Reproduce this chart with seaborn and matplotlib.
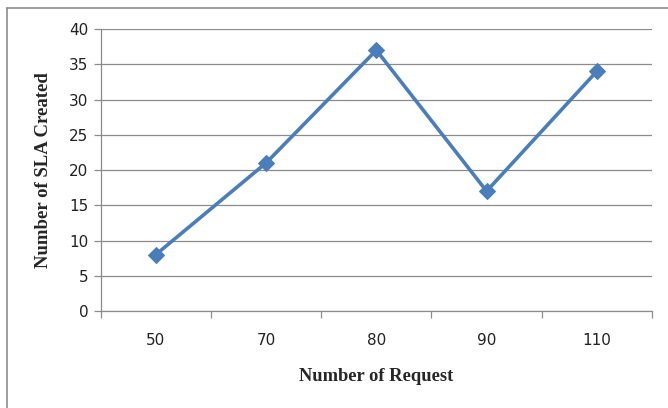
import matplotlib
matplotlib.use("Agg")
import matplotlib.pyplot as plt
import seaborn as sns
import pandas as pd
from matplotlib.lines import Line2D

# data
requests = ["50", "70", "80", "90", "110"]
sla_created = [8, 21, 37, 17, 34]
y_ticks = [0, 5, 10, 15, 20, 25, 30, 35, 40]

sns.set_style("white")
plt.rcParams['font.family'] = ['DejaVu Sans']

df = pd.DataFrame({"req": requests, "sla": sla_created})
df["pos"] = range(len(requests))

fig = plt.figure(figsize=(6.68, 4.08), dpi=100)
ax = fig.add_axes([0.1507, 0.2377, 0.976 - 0.1507, 0.9289 - 0.2377])

sns.lineplot(data=df, x="pos", y="sla", ax=ax, color="#4A7EBB", linewidth=2.6,
             marker="D", markersize=8, markeredgecolor="#4A7EBB", zorder=3)

ax.set_xlim(-0.5, len(requests) - 0.5)
ax.set_ylim(0, 40)
ax.set_yticks(y_ticks)
ax.yaxis.grid(True, color="#8c8c8c", linewidth=0.9)
ax.set_xticks(range(len(requests)))
ax.set_xticklabels(requests)
# tick marks between categories
ax.set_xticks([i - 0.5 for i in range(len(requests) + 1)], minor=True)
ax.tick_params(axis="x", which="major", length=0, pad=16, labelsize=11, colors="#222222")
ax.tick_params(axis="x", which="minor", length=5, color="#8c8c8c", width=0.9, direction="out", bottom=True)
ax.tick_params(axis="y", length=5, color="#8c8c8c", width=0.9, direction="out", left=True,
               labelsize=11, colors="#222222", pad=4)

for side in ["top", "right"]:
    ax.spines[side].set_visible(False)
for side in ["left", "bottom"]:
    ax.spines[side].set_color("#8c8c8c")
    ax.spines[side].set_linewidth(0.9)

ax.set_xlabel("Number of Request", family="Liberation Serif", fontweight="bold",
              fontsize=13.3, labelpad=14)
ax.set_ylabel("Number of SLA Created", family="Liberation Serif", fontweight="bold",
              fontsize=13.5, labelpad=12)

# outer chart frame (only left and top edges visible)
fig.add_artist(Line2D([6.5 / 668, 6.5 / 668], [0, 1 - 8 / 408], transform=fig.transFigure,
                      color="#8c8c8c", linewidth=1.2))
fig.add_artist(Line2D([6.5 / 668, 1], [1 - 8 / 408, 1 - 8 / 408], transform=fig.transFigure,
                      color="#8c8c8c", linewidth=1.2))

fig.savefig("out.png", dpi=100)
